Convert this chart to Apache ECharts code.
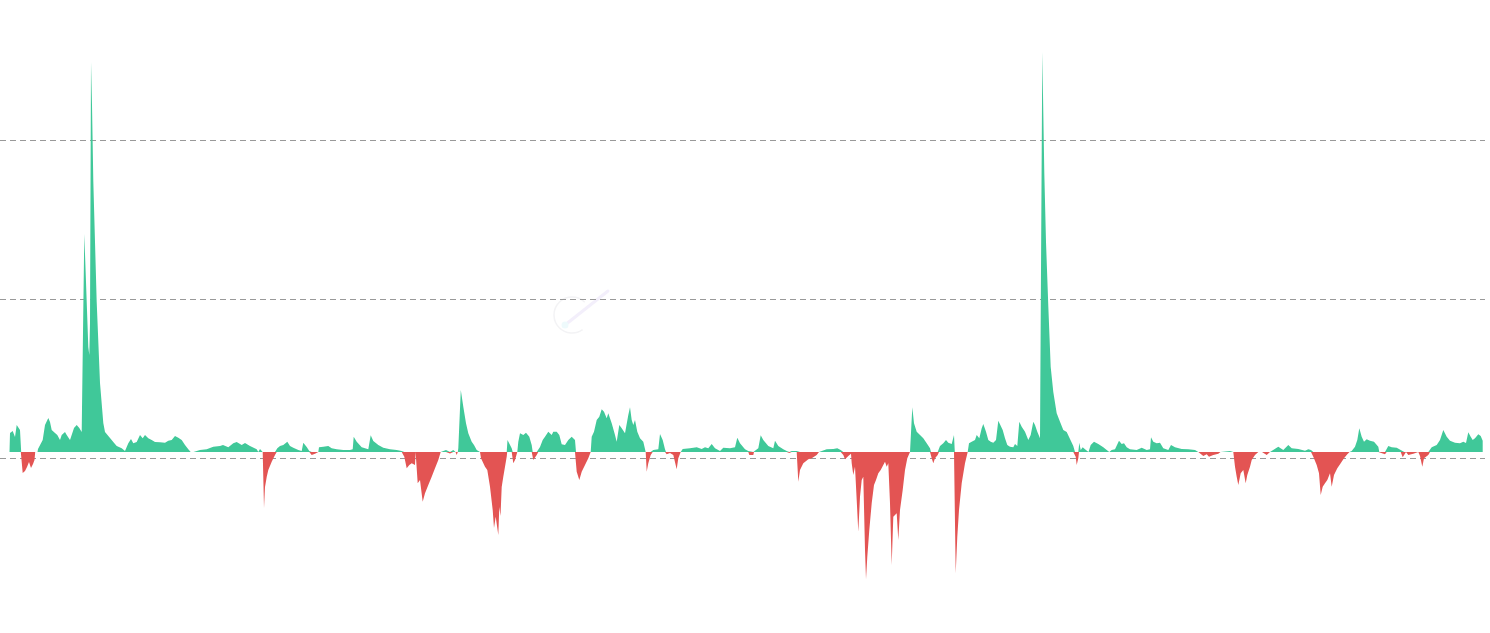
<!DOCTYPE html>
<html>
<head>
<meta charset="utf-8">
<script src="https://cdn.jsdelivr.net/npm/echarts@6/dist/echarts.min.js"></script>
<style>
  html, body { margin: 0; padding: 0; background: #ffffff; }
  #chart { width: 1490px; height: 633px; }
</style>
</head>
<body>
<div id="chart"></div>
<script>
// Day index of each observation
const days = [
  7,9.5,10,12.7,15,16.7,18.3,20,20.8,21.2,22.7,25,27,29,30,31,33,34.5,35.2,37.5,
  38,40,42.7,45,48.3,50,51.7,55,57.3,59,60,61.7,65,66.7,70,71.7,74,76.7,79.3,81.7,
  83.3,83.9,84.3,86,88.3,89.3,90,91,92,93.3,95,96.7,100,103.3,105,106.7,110,113.3,116.7,121.7,
  125,128.3,131,133.3,136.7,140,142.7,145,148.3,151.7,155,160,165,168.3,171.7,175,178.3,181.7,185,188.3,
  190.7,192,193.5,195,200,206.7,213.3,220,223,228.3,233.3,236.7,241.7,245,250,256.7,258.3,260,262.7,263.5,
  264,265,266.7,268.3,271.7,275,276.7,277.3,280,283.3,287.3,290,293.3,298.3,301.7,303.3,306.7,309.3,310.5,311.7,
  315,318.3,319,323.3,328.3,331.7,336.7,343.3,350,352.7,353.7,356.7,361.7,368.3,370.7,373.3,378.3,383.3,390,396.7,
  401.7,403.3,404.3,406.7,409.3,411.7,415,415.6,417.4,417.7,420,422.7,425,428.3,431.7,435,438.3,440.7,441.7,446,
  448,450,452,453.3,455.5,456.7,457.8,458.3,460,460.8,461.7,463.3,466,468.3,471.7,474,476.7,480,481,485,
  487.3,490,492.7,494,495.7,498.3,499.3,500.5,501.7,503.3,505,506.7,507.2,507.5,508.3,511.7,512.7,513.3,515,517.3,
  518.3,520,523.3,526,529.3,531.7,532.7,533.3,536.7,538.3,540,542.7,545,548.3,550,551.7,553.3,556.7,559.3,561.7,
  565,568.3,571.7,575,576,576.7,579.3,581.7,585,588.3,590.7,591.7,594,596.7,599.3,601.7,604,606.7,608.3,611.7,
  615,616.7,619.3,621.7,625,628.3,630,631.7,633.3,635,637.3,640,643.3,645.7,646.7,648.3,650.7,652.7,653.3,658.3,
  660,662.7,665,666,666.7,670,673.3,676.7,678.3,680.7,682.7,690,696.7,701.7,705,708.3,711.7,715,720,723.3,
  730,735,737.3,740,745,748.3,749.3,753.3,754,758.3,760.7,763.3,768.3,773.3,775,778.3,783.3,786.7,789.3,791.7,
  796.7,797.7,798.3,800,803.3,808.3,811.7,813.3,816.7,819,820,826.7,833.3,837.3,840.7,842,843.3,845,848.3,851,
  851.7,853.3,855,856.7,858.3,860,861.7,863.3,865,866,867.3,869.3,871.7,874,876,878.3,880.7,883.3,885,886.7,
  888.3,890,891.7,893.3,896.7,898.3,900,902.7,905,907.3,910,911.8,912.3,914,916.7,920,923.3,926.7,930,931,
  931.7,933.3,935,937.7,939,940,943.3,946,948.3,951.7,954,954.8,955.7,957.3,959,961.7,965,967.7,969,971.7,
  975,976.7,979.3,981.7,983.3,986,988.3,990.7,993.3,996,998.3,1000,1002.7,1005,1007.3,1010,1013.3,1015,1017.3,1019.3,
  1021.7,1025,1028.3,1030.7,1033.3,1035,1037.3,1040,1041.3,1042.3,1044.3,1046,1048.3,1050.7,1053.3,1056.7,1060,1063.3,1066.7,1070,
  1073.3,1075,1075.7,1076.7,1078.3,1079,1079.3,1080.7,1082.7,1085,1086.7,1088.5,1090.7,1094,1098.3,1103.3,1106.7,1109.3,1111.7,1115,
  1119,1121.7,1124,1126.7,1130,1136.7,1141.7,1146.7,1150,1151,1153.3,1156.7,1160,1163.3,1168.3,1171,1175,1181.7,1188.3,1195,
  1198.3,1200,1203.3,1206.7,1209,1213.3,1218.3,1220.5,1221.7,1230,1233.3,1235,1236.7,1238.3,1240.7,1243.3,1245.7,1247.3,1250,1251.7,
  1255,1258.3,1260,1262,1264,1266.7,1270,1271.7,1278.3,1283.3,1288.3,1291.7,1298.3,1305,1308.3,1311,1312,1313.3,1316.7,1319,
  1320.7,1322.7,1325,1327.3,1330,1331.7,1334,1337.3,1340.7,1344,1347.3,1349.5,1351.7,1355,1357.3,1359.3,1361.7,1364,1366.7,1370,
  1374,1378.3,1379.3,1380,1385,1386.7,1388.3,1391.7,1396.7,1400.7,1401.7,1402.7,1404.3,1406,1408.3,1413.3,1415,1418.3,1420,1422.3,
  1424,1428.3,1430,1431.7,1436.7,1440,1443.3,1446.7,1450,1455,1460,1463.3,1466,1468.3,1470.7,1472.7,1475,1478.3,1480.7,1482.7
];

// Observed values (positive = green, negative = red)
const values = [
  0,0,19,21,15,27,29,22,20,0,-21,-19,-15,-10,-12,-16,-12,-8,0,0,
  3,5,12,27,34,30,22,19,17,19,12,17,20,17,12,11,24,27,24,20,
  22,22,218,170,105,97,129,390,347,271,210,150,69,29,20,19,14,10,6,3.7,
  1,8.7,13,8.7,10,17,13.7,17,13.7,12,10,9.7,9.3,11.3,12,16,14.3,12,7,2.7,
  0,-1,0,1,2,2.7,5.3,6,7,4.7,8.7,10,7,9,6,2.7,-1.7,3,0,0,
  -56,-35,-25,-18,-9.7,-3,0,3.7,6,7,10.3,6,4.3,2,1,9.3,5,1,0,-3,
  -1.7,0,4.7,5.3,6,3.7,2.7,2,2,2.7,15.3,10.3,4.7,2.7,16.7,11,7,4.3,2.7,2,
  1,0,-4.7,-16.3,-13,-11.3,-13,0,0,-31.3,-28,-49.7,-41.3,-33,-24.7,-16.3,-8,0,2,2,
  0,-1.5,0,2,0,-3,0,3.7,5,62,62.7,45.3,28.7,18.7,10.3,7,2,0,-6.3,-14.7,
  -18,-34.7,-58,-76,-64.7,-83,-55,-64,-35,-24.7,-14.7,-4.7,0,12,11.3,3.7,0,-11.3,-8,0,
  10.3,18.7,17,19.3,15.3,7,0,-8,-3,0,5,12,15.3,20.3,22,17,20.3,20.3,17,7.7,
  7,12,15.3,12,0,-19.7,-28,-19.7,-13,-6.3,0,15.3,20.3,32,35.3,42.7,40.3,33.7,38.7,28.7,
  17,10.3,27,23.7,18.7,37,44.7,32,27,32,20.3,13.7,10.3,0,-19.7,-11.3,-3,0,2,2.7,
  18,12,2.7,0,-2.3,-1,-3,-17.3,-6.3,0,3,3.7,4.7,3,4.7,3.7,8,3.7,1,4.3,
  3.7,4.7,14.3,8.7,2.7,1,-3,-3,2,3.7,16.7,12,6,3.7,11.3,6,2.7,1,-1,1,
  1,0,-29.7,-18,-11.3,-7.3,-6.3,-8,-3,0,2,2.7,3,3.7,2,0,-3,-7.3,-4,-1.7,
  -11.3,-23,-14.7,-48,-79.7,-44.7,-28,-24.7,-98,-127.3,-104.7,-78,-51.3,-33,-28,-21.3,-18,-13,-9.7,-14.7,
  -11.3,-51.3,-113,-64.7,-61.3,-88,-58,-38,-18,-6.3,0,0,44.7,28.7,20.3,17,13.7,8.7,3.7,0,
  -6.3,-11.3,-6.3,-3,0,6,8.7,12,9.3,8,17,0,-121.3,-84.7,-58,-31.3,-11.3,0,8.7,10.3,
  12,17,13.7,23.7,28,20.3,12,10.3,9.3,12,31.3,29.3,22,13.7,7,5.3,4.7,8,6,30.3,
  25.3,20.3,12,17,30.3,27,20.3,13.7,14,400,279,210,146,85,60,38.7,30.3,22,20,13,
  6,0,-4.7,-13,-6.3,0,9.3,2,4.7,2.7,0.7,0,7,10.3,8,4.7,2,0,2,2.7,
  11.3,8,8.7,4.7,2.7,2,4.3,2,2.7,14.7,10.3,8.7,9.3,3.7,2,7,4.7,3,2.7,2,
  0,-1.7,-4,-2.3,-4.7,-3,-1.7,0,1,1,0,-14.7,-24.7,-33,-21.3,-18,-31.3,-23,-14.7,-8,
  -3,0,1,0,-1.7,-3,0,2,5.3,2,7,3.7,3,1.3,2.7,2,0,-4.7,-13,-21.3,
  -43,-34.7,-31.3,-28,-21.3,-34.7,-23,-16.3,-11.3,-6.3,-2.3,0,1,5.3,12,23.7,15.3,10.3,12.7,11.3,
  10.3,5.3,0,-1.7,-2.3,0,6,4.7,4.3,2,0,-5.3,-4,0,-3,-1.7,1,0,-4,-14.7,
  -6.3,-3,0,4.7,7,12,22,15.3,11.3,9.3,8.7,10.3,9,19.7,15.3,12,13.7,17.7,16,11.3
];

// Value-axis settings (gridlines every 159 units, counted from the axis minimum)
const yMin = -165;
const yMax = 452;
const yInterval = 159;
const dayMin = 0;
const dayMax = 1485;

const GREEN = '#40c899';
const RED = '#e35453';

// split the single signed series into its positive and negative parts
const posData = days.map((d, i) => [d, Math.max(values[i], 0)]);
const negData = days.map((d, i) => [d, Math.min(values[i], 0)]);

const chart = echarts.init(document.getElementById('chart'), null, { renderer: 'canvas' });
chart.setOption({
  animation: false,
  backgroundColor: '#ffffff',
  grid: { left: 0, right: 5, top: 0, bottom: 16, containLabel: false },
  xAxis: {
    type: 'value',
    min: dayMin,
    max: dayMax,
    show: false
  },
  yAxis: {
    type: 'value',
    min: yMin,
    max: yMax,
    interval: yInterval,
    axisLine: { show: false },
    axisTick: { show: false },
    axisLabel: { show: false },
    splitLine: {
      show: true,
      showMinLine: false,
      showMaxLine: false,
      lineStyle: { color: '#999999', width: 1, type: [6, 4] }
    }
  },
  graphic: [
    {
      type: 'arc',
      shape: { cx: 572, cy: 315, r: 18, startAngle: -Math.PI * 0.25, endAngle: Math.PI * 0.3, clockwise: false },
      style: { stroke: '#f3f3f5', lineWidth: 1.5, fill: null },
      silent: true
    },
    {
      type: 'line',
      shape: { x1: 565, y1: 325, x2: 608, y2: 291 },
      style: { stroke: '#f3effb', lineWidth: 3, lineCap: 'round' },
      silent: true
    },
    {
      type: 'circle',
      shape: { cx: 565, cy: 325, r: 3.5 },
      style: { fill: '#eefafc' },
      silent: true
    }
  ],
  series: [
    {
      name: 'positive',
      type: 'line',
      data: posData,
      showSymbol: false,
      symbol: 'none',
      smooth: false,
      color: GREEN,
      lineStyle: { width: 0, opacity: 0 },
      areaStyle: { color: GREEN, opacity: 1 },
      z: 2
    },
    {
      name: 'negative',
      type: 'line',
      data: negData,
      showSymbol: false,
      symbol: 'none',
      smooth: false,
      color: RED,
      lineStyle: { width: 0, opacity: 0 },
      areaStyle: { color: RED, opacity: 1 },
      z: 2
    }
  ]
});
</script>
</body>
</html>
